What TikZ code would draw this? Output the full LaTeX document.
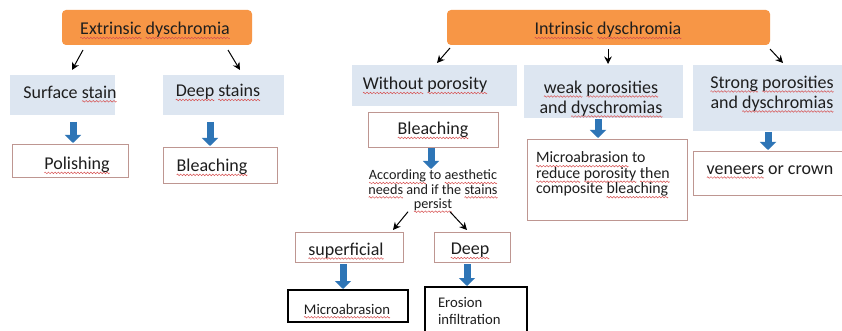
\documentclass[tikz,border=0pt]{standalone}
\usepackage{fontspec}
\setmainfont{Carlito}
\usetikzlibrary{arrows.meta}
\definecolor{orangeF}{RGB}{247,150,70}
\definecolor{lblue}{RGB}{221,230,241}
\definecolor{barrowc}{RGB}{46,117,182}
\definecolor{rborder}{RGB}{190,150,145}
\definecolor{txtc}{RGB}{30,30,30}
\definecolor{wavec}{RGB}{215,80,80}
\newsavebox\wavebox
\newsavebox\sqbox
\newcommand\sq[1]{\sbox\sqbox{#1}\rlap{\raisebox{-3.2pt}[0pt][0pt]{\hbox to \wd\sqbox{\xleaders\copy\wavebox\hfill}}}\usebox\sqbox}
\begin{document}
\sbox\wavebox{\pgfpicture
  \pgfpathrectangle{\pgfpoint{0pt}{-1pt}}{\pgfpoint{3.2pt}{2pt}}\pgfusepath{use as bounding box}%
  \pgfsetlinewidth{0.5pt}\pgfsetstrokecolor{wavec}%
  \pgfpathmoveto{\pgfpoint{0pt}{0pt}}%
  \pgfpathsine{\pgfpoint{0.8pt}{0.8pt}}\pgfpathcosine{\pgfpoint{0.8pt}{-0.8pt}}%
  \pgfpathsine{\pgfpoint{0.8pt}{-0.8pt}}\pgfpathcosine{\pgfpoint{0.8pt}{0.8pt}}%
  \pgfusepath{stroke}\pgfsetbaseline{0pt}\endpgfpicture}%
\begin{tikzpicture}[x=1pt,y=-1pt,
  every node/.style={inner sep=0pt, outer sep=0pt, text=txtc},
  obox/.style={fill=orangeF, rounded corners=4pt, anchor=north west},
  lbbox/.style={fill=lblue, anchor=north west},
  wbox/.style={draw=rborder, line width=0.8pt, fill=white, anchor=north west},
  kbox/.style={draw=black, line width=1.1pt, fill=white, anchor=north west},
  bigT/.style={font=\fontsize{18}{20}\selectfont, align=center},
  midT/.style={font=\fontsize{14.7}{17}\selectfont, align=left},
  m1T/.style={font=\fontsize{15.8}{15.5}\selectfont, align=left},
  smallT/.style={font=\fontsize{14.2}{14.3}\selectfont, align=center},
  blk/.style={line width=7pt, draw=barrowc, -{Triangle[length=8pt,width=16pt]}},
  karr/.style={line width=1pt, draw=black, -{Stealth[length=7.5pt,width=7.5pt]}}]
\fill[white] (0,0) rectangle (842,331);
\useasboundingbox (0,0) rectangle (842,331);

% ---------- Extrinsic ----------
\node[obox, minimum width=190pt, minimum height=35pt] (ext) at (62,10) {};
\node[bigT] (extT) at (155,30) {\sq{Extrinsic} \sq{dyschromia}};
\node[lbbox, minimum width=105pt, minimum height=40pt] (surf) at (10,75) {};
\node[bigT] (surfT) at (70,92) {Surface \sq{stain}};
\node[lbbox, minimum width=121pt, minimum height=40pt] (deeps) at (163,75) {};
\node[bigT] (deepsT) at (218,92) {\sq{Deep} \sq{stains}};
\node[wbox, minimum width=116pt, minimum height=33pt] (pol) at (12,144) {};
\node[bigT] (polT) at (77,165) {\sq{Polishing}};
\node[wbox, minimum width=114pt, minimum height=36pt] (blch1) at (163,147) {};
\node[bigT] (blch1T) at (212,167) {\sq{Bleaching}};

\draw[karr] ([xshift=-74pt,yshift=-5pt]ext.south) -- ([xshift=9.5pt,yshift=5pt]surf.north);
\draw[karr] ([xshift=71pt,yshift=-5pt]ext.south) -- ([xshift=16.5pt,yshift=5pt]deeps.north);
\draw[blk] ([xshift=10.5pt,yshift=-7pt]surf.south) -- ([xshift=3pt,yshift=1pt]pol.north);
\draw[blk] ([xshift=-13.5pt,yshift=-7pt]deeps.south) -- ([xshift=-10pt,yshift=1pt]blch1.north);

% ---------- Intrinsic ----------
\node[obox, minimum width=323pt, minimum height=35pt] (int) at (447,10) {};
\node[bigT] (intT) at (608,30) {\sq{Intrinsic} \sq{dyschromia}};
\node[lbbox, minimum width=165pt, minimum height=41pt] (wp) at (352,65) {};
\node[bigT] (wpT) at (425,85) {\sq{Without} \sq{porosity}};
\node[lbbox, minimum width=159pt, minimum height=53pt] (weak) at (524,65) {};
\node[bigT] (weakT) at (601,98.5) {\sq{weak} \sq{porosities}\\and \sq{dyschromias}};
\node[lbbox, minimum width=152pt, minimum height=66pt] (strong) at (693,65) {};
\node[bigT] (strongT) at (772,93.5) {\sq{Strong} \sq{porosities}\\and \sq{dyschromias}};

\draw[karr] ([xshift=-158.5pt,yshift=-3pt]int.south) -- ([xshift=2.5pt,yshift=2pt]wp.north);
\draw[karr] ([xshift=-0.5pt,yshift=-4pt]int.south) -- ([xshift=4.5pt,yshift=1pt]weak.north);
\draw[karr] ([xshift=161.5pt,yshift=-4pt]int.south) -- ([xshift=14pt,yshift=2pt]strong.north);

\node[wbox, minimum width=130pt, minimum height=35pt] (blch2) at (368,112) {};
\node[bigT] (blch2T) at (433,130) {\sq{Bleaching}};
\node[smallT, anchor=north] (acc) at (433,170) {\sq{According} to \sq{aesthetic}\\\sq{needs} and if the \sq{stains}\\\sq{persist}};
\draw[blk] ([xshift=-2pt,yshift=-1pt]blch2.south) -- ([xshift=-2pt,yshift=1pt]acc.north);

\node[wbox, minimum width=160pt, minimum height=81pt] (micro1) at (527,139) {};
\node[m1T, anchor=north west] (micro1T) at (536,152) {\sq{Microabrasion} to\\\sq{reduce} \sq{porosity} \sq{then}\\composite \sq{bleaching}};
\draw[blk] ([xshift=-5.5pt,yshift=-1pt]weak.south) -- ([xshift=-9pt,yshift=1pt]micro1.north);

\node[wbox, minimum width=152pt, minimum height=44pt] (ven) at (693,151) {};
\node[bigT] (venT) at (770,170) {\sq{veneers} or crown};
\draw[blk] ([xshift=-1pt,yshift=-1pt]strong.south) -- ([xshift=-1pt,yshift=1pt]ven.north);

\node[wbox, minimum width=108pt, minimum height=30pt] (sup) at (295,232) {};
\node[bigT] (supT) at (346,250.5) {\sq{superficial}};
\node[wbox, minimum width=76pt, minimum height=30pt] (dp) at (434,232) {};
\node[bigT] (dpT) at (470,250.5) {\sq{Deep}};
\draw[karr] ([xshift=-25pt,yshift=-1pt]acc.south) -- ([xshift=44pt,yshift=2pt]sup.north);
\draw[karr] ([xshift=17pt,yshift=-1pt]acc.south) -- ([xshift=-5pt,yshift=2pt]dp.north);

\node[kbox, minimum width=120pt, minimum height=32pt] (micro2) at (288,290) {};
\node[midT] (micro2T) at (347,309) {\sq{Microabrasion}};
\node[kbox, minimum width=102pt, minimum height=58pt] (eros) at (425,287) {};
\node[midT, anchor=north west] (erosT) at (438,297) {Erosion\\infiltration};
\draw[blk] ([xshift=-6pt,yshift=-2pt]sup.south) -- ([xshift=-5pt,yshift=1pt]micro2.north);
\draw[blk] ([xshift=-5pt,yshift=-2pt]dp.south) -- ([xshift=-9pt,yshift=1pt]eros.north);
\end{tikzpicture}
\end{document}
